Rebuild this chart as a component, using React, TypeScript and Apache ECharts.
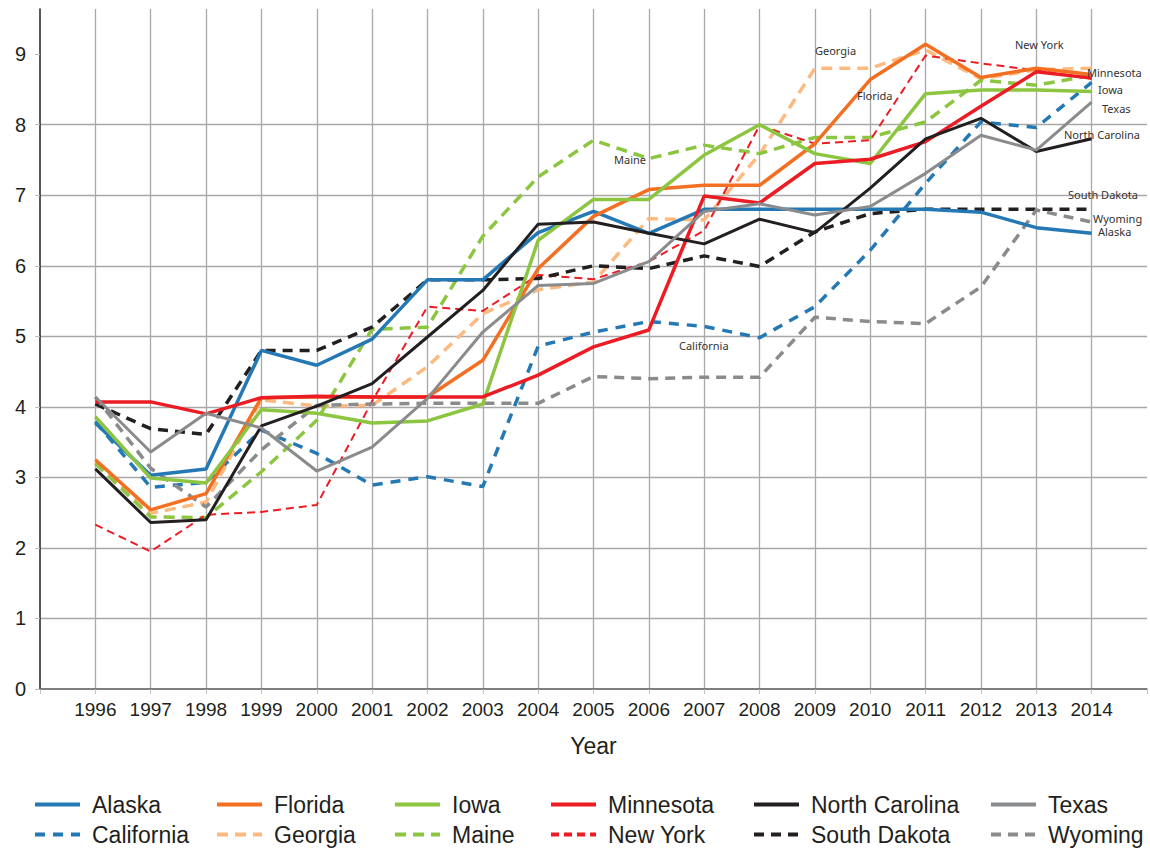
import React, { useEffect, useRef } from "react";
import * as echarts from "echarts";

const years = [1996, 1997, 1998, 1999, 2000, 2001, 2002, 2003, 2004, 2005, 2006, 2007, 2008, 2009, 2010, 2011, 2012, 2013, 2014];

const alaska = [3.77, 3.03, 3.12, 4.8, 4.59, 4.96, 5.8, 5.8, 6.47, 6.77, 6.46, 6.8, 6.8, 6.8, 6.8, 6.8, 6.76, 6.54, 6.46];
const florida = [3.25, 2.54, 2.77, 4.13, 4.14, 4.14, 4.14, 4.66, 5.96, 6.7, 7.08, 7.14, 7.14, 7.73, 8.64, 9.14, 8.67, 8.8, 8.71];
const iowa = [3.86, 2.99, 2.92, 3.96, 3.91, 3.77, 3.8, 4.04, 6.36, 6.94, 6.94, 7.57, 8.0, 7.59, 7.45, 8.44, 8.49, 8.49, 8.47];
const minnesota = [4.07, 4.07, 3.9, 4.13, 4.15, 4.14, 4.14, 4.14, 4.45, 4.85, 5.09, 6.99, 6.89, 7.45, 7.51, 7.76, 8.26, 8.75, 8.66];
const northCarolina = [3.12, 2.36, 2.4, 3.73, 4.01, 4.33, 4.99, 5.65, 6.59, 6.62, 6.46, 6.31, 6.66, 6.47, 7.1, 7.8, 8.09, 7.62, 7.8];
const texas = [4.14, 3.36, 3.91, 3.7, 3.09, 3.43, 4.12, 5.06, 5.72, 5.75, 6.06, 6.77, 6.88, 6.72, 6.84, 7.31, 7.85, 7.64, 8.32];
const california = [3.79, 2.86, 2.93, 3.67, 3.34, 2.89, 3.01, 2.87, 4.86, 5.06, 5.21, 5.14, 4.98, 5.42, 6.22, 7.17, 8.04, 7.96, 8.6];
const georgia = [3.22, 2.49, 2.65, 4.1, 4.01, 4.02, 4.57, 5.32, 5.66, 5.77, 6.67, 6.65, 7.58, 8.8, 8.8, 9.06, 8.65, 8.78, 8.8];
const maine = [3.2, 2.44, 2.43, 3.08, 3.81, 5.1, 5.13, 6.42, 7.26, 7.78, 7.52, 7.71, 7.59, 7.82, 7.82, 8.04, 8.63, 8.56, 8.7];
const newYork = [2.33, 1.95, 2.47, 2.51, 2.61, 4.08, 5.42, 5.36, 5.87, 5.81, 6.06, 6.5, 7.99, 7.73, 7.78, 8.98, 8.87, 8.77, 8.65];
const southDakota = [4.04, 3.69, 3.61, 4.8, 4.8, 5.13, 5.8, 5.8, 5.82, 6.0, 5.96, 6.14, 5.99, 6.48, 6.74, 6.8, 6.8, 6.8, 6.8];
const wyoming = [4.14, 3.13, 2.58, 3.39, 4.02, 4.04, 4.05, 4.05, 4.05, 4.43, 4.4, 4.42, 4.42, 5.27, 5.21, 5.18, 5.7, 6.79, 6.62];

const yTicks = [0, 1, 2, 3, 4, 5, 6, 7, 8, 9];

const BLUE = "#2479b5";
const ORANGE = "#f36f21";
const GREEN = "#8cc540";
const RED = "#ec1c24";
const BLACK = "#231f20";
const GRAY = "#8a8b8d";
const LIGHTORANGE = "#fdba80";

type S = { name: string; data: number[]; color: string; dashed: boolean; width: number; dash?: number[] };

const solidSeries: S[] = [
  { name: "Alaska", data: alaska, color: BLUE, dashed: false, width: 3.5 },
  { name: "Florida", data: florida, color: ORANGE, dashed: false, width: 3.5 },
  { name: "Iowa", data: iowa, color: GREEN, dashed: false, width: 3.5 },
  { name: "Minnesota", data: minnesota, color: RED, dashed: false, width: 3.5 },
  { name: "North Carolina", data: northCarolina, color: BLACK, dashed: false, width: 3 },
  { name: "Texas", data: texas, color: GRAY, dashed: false, width: 3 },
];
const dashedSeries: S[] = [
  { name: "California", data: california, color: BLUE, dashed: true, width: 3.5, dash: [10, 8] },
  { name: "Georgia", data: georgia, color: LIGHTORANGE, dashed: true, width: 3.5, dash: [11, 7] },
  { name: "Maine", data: maine, color: GREEN, dashed: true, width: 3.5, dash: [11, 7] },
  { name: "New York", data: newYork, color: RED, dashed: true, width: 2, dash: [8, 5] },
  { name: "South Dakota", data: southDakota, color: BLACK, dashed: true, width: 3.5, dash: [10, 7] },
  { name: "Wyoming", data: wyoming, color: GRAY, dashed: true, width: 3.5, dash: [10, 7] },
];

const annotations = [
  { text: "Georgia", x: 815, y: 52 },
  { text: "New York", x: 1015, y: 46 },
  { text: "Minnesota", x: 1087, y: 74 },
  { text: "Iowa", x: 1098, y: 91 },
  { text: "Texas", x: 1102, y: 110 },
  { text: "North Carolina", x: 1064, y: 136 },
  { text: "Florida", x: 857, y: 97 },
  { text: "Maine", x: 614, y: 161 },
  { text: "South Dakota", x: 1068, y: 196 },
  { text: "Wyoming", x: 1093, y: 220 },
  { text: "Alaska", x: 1098, y: 233 },
  { text: "California", x: 679, y: 347 },
];

const legendLefts = [33, 215, 393, 549, 752, 989];

export default function App() {
  const ref = useRef<HTMLDivElement>(null);
  useEffect(() => {
    if (!ref.current) return;
    const chart = echarts.init(ref.current, null, { renderer: "svg" });
    const all = [...dashedSeries, ...solidSeries];
    const series = all.map((s) => ({
      name: s.name,
      type: "line",
      symbol: "none",
      data: years.map((y, i) => [y, s.data[i]]),
      lineStyle: { color: s.color, width: s.width, type: s.dashed ? s.dash : "solid", cap: "butt" },
      itemStyle: { color: s.color },
      emphasis: { disabled: true },
    }));
    const legends = legendLefts.map((left, i) => ({
      orient: "vertical",
      left,
      top: 793,
      padding: 0,
      itemGap: 7,
      itemWidth: 45,
      itemHeight: 14,
      selectedMode: false,
      itemStyle: { opacity: 0 },
      lineStyle: { width: 4 },
      data: [solidSeries[i].name, dashedSeries[i].name],
      textStyle: {
        fontFamily: "Liberation Sans",
        fontSize: 23,
        color: "#231f20",
        padding: [0, 0, 0, 7],
      },
    }));
    chart.setOption({
      animation: false,
      backgroundColor: "#ffffff",
      grid: { left: 40, right: 2, top: 9, bottom: 162, containLabel: false },
      legend: legends,
      xAxis: {
        type: "value",
        min: 1995,
        max: 2015,
        interval: 1,
        name: "Year",
        nameLocation: "middle",
        nameGap: 45,
        nameTextStyle: { fontFamily: "Liberation Sans", fontSize: 23, color: "#231f20" },
        axisLine: { show: true, lineStyle: { color: "#555555", width: 1.5 } },
        axisTick: { show: true, length: 5, lineStyle: { color: "#c0c0c0", width: 1 } },
        axisLabel: {
          fontFamily: "Liberation Sans",
          fontSize: 19,
          color: "#231f20",
          margin: 11,
          formatter: (v: number) => (v >= 1996 && v <= 2014 ? String(v) : ""),
        },
        splitLine: { show: true, showMinLine: false, showMaxLine: false, lineStyle: { color: "#a8a8a8", width: 1.3 } },
      },
      yAxis: {
        type: "value",
        min: 0,
        max: 9.64,
        interval: 1,
        axisLine: { show: true, lineStyle: { color: "#231f20", width: 1.5 } },
        axisTick: { show: true, length: 5, customValues: yTicks, lineStyle: { color: "#c0c0c0", width: 1 } },
        axisLabel: {
          fontFamily: "Liberation Sans",
          fontSize: 20,
          color: "#231f20",
          margin: 14,
          customValues: yTicks,
          formatter: (v: number) => (Number.isInteger(v) ? String(v) : ""),
        },
        splitLine: { show: true, showMinLine: false, showMaxLine: false, lineStyle: { color: "#a8a8a8", width: 1.3 } },
      },
      graphic: annotations.map((a) => ({
        type: "text",
        left: a.x,
        top: a.y - 7,
        z: 100,
        style: { text: a.text, fill: "#333333", font: "11px 'Noto Sans'" },
      })),
      series,
    });
    return () => chart.dispose();
  }, []);
  return <div ref={ref} style={{ position: "fixed", left: 0, top: 0, width: 1150, height: 851 }} />;
}
